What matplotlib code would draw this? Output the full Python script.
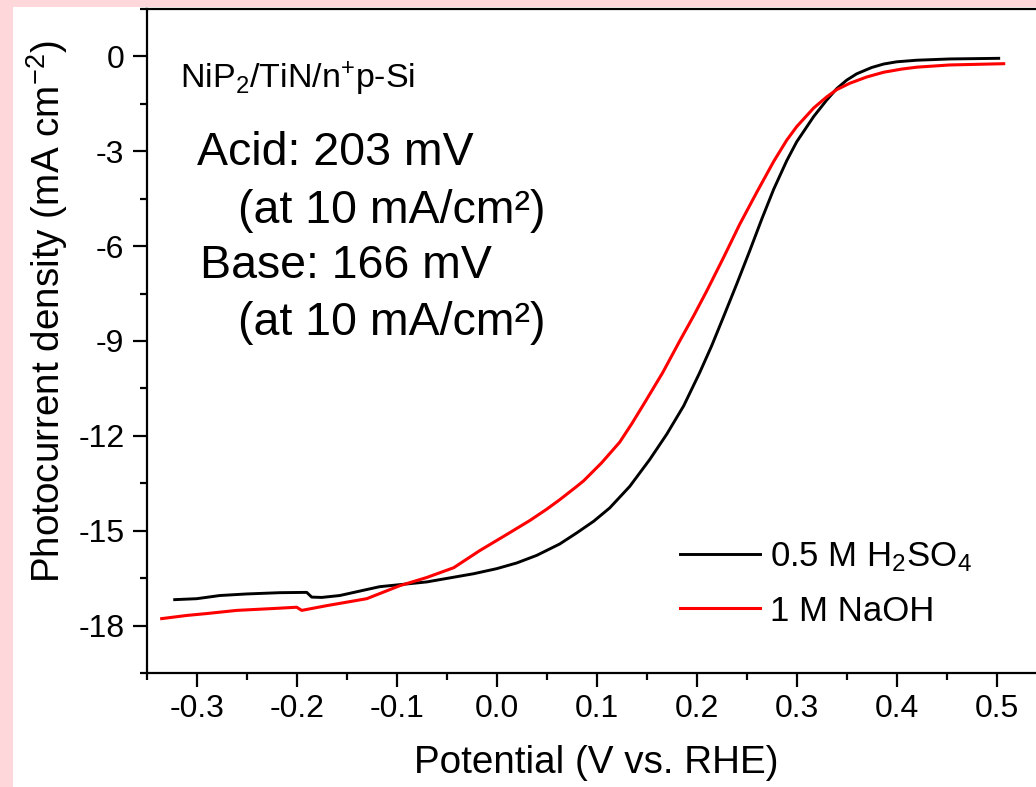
import matplotlib
matplotlib.use("Agg")
import matplotlib.pyplot as plt
from matplotlib.patches import Rectangle
from matplotlib.ticker import MultipleLocator, FormatStrFormatter

# Linear sweep voltammetry of NiP2/TiN/n+p-Si photocathode
acid_v = [-0.322, -0.300, -0.277, -0.250, -0.217, -0.190, -0.185, -0.175, -0.157,
          -0.117, -0.070, -0.023, 0.000, 0.020, 0.040, 0.063, 0.080, 0.097, 0.113,
          0.133, 0.153, 0.170, 0.187, 0.203, 0.215, 0.227, 0.240, 0.253, 0.265,
          0.277, 0.290, 0.300, 0.317, 0.330, 0.340, 0.350, 0.360, 0.375, 0.387,
          0.400, 0.420, 0.453, 0.502]
acid_j = [-17.18, -17.15, -17.05, -17.00, -16.96, -16.95, -17.10, -17.11, -17.05,
          -16.77, -16.62, -16.36, -16.20, -16.02, -15.78, -15.42, -15.07, -14.70, -14.28,
          -13.60, -12.75, -11.95, -11.05, -10.00, -9.15, -8.22, -7.20, -6.15, -5.15,
          -4.20, -3.30, -2.70, -1.90, -1.38, -1.02, -0.75, -0.55, -0.35, -0.24,
          -0.17, -0.12, -0.08, -0.06]

base_v = [-0.335, -0.310, -0.290, -0.260, -0.223, -0.200, -0.195, -0.170, -0.130,
          -0.097, -0.070, -0.043, -0.017, 0.010, 0.033, 0.050, 0.063, 0.080, 0.087,
          0.105, 0.123, 0.135, 0.147, 0.166, 0.183, 0.197, 0.210, 0.227, 0.243,
          0.260, 0.277, 0.290, 0.300, 0.317, 0.330, 0.340, 0.353, 0.370, 0.387,
          0.405, 0.420, 0.453, 0.507]
base_j = [-17.78, -17.68, -17.62, -17.52, -17.46, -17.42, -17.52, -17.37, -17.15,
          -16.74, -16.48, -16.17, -15.63, -15.12, -14.68, -14.32, -14.02, -13.60, -13.42,
          -12.85, -12.20, -11.62, -11.00, -10.00, -9.00, -8.20, -7.42, -6.35, -5.31,
          -4.30, -3.32, -2.65, -2.22, -1.63, -1.28, -1.05, -0.85, -0.65, -0.50,
          -0.40, -0.34, -0.27, -0.23]

series_labels = ["0.5 M H$_2$SO$_4$", "1 M NaOH"]
series_colors = ["black", "#ff0000"]

sample_label = "NiP$_2$/TiN/n$^{+}$p-Si"
notes = ["Acid: 203 mV", "(at 10 mA/cm\u00b2)", "Base: 166 mV", "(at 10 mA/cm\u00b2)"]

plt.rcParams["font.family"] = ["Liberation Sans", "DejaVu Sans"]
plt.rcParams["mathtext.default"] = "regular"
plt.rcParams["axes.unicode_minus"] = False

W, H = 1036, 787
fig = plt.figure(figsize=(W / 100, H / 100), dpi=100, facecolor="#fdd7d9")
fig.patches.append(Rectangle((13 / W, 0), 1, 1 - 7 / H, transform=fig.transFigure,
                             facecolor="white", edgecolor="none", zorder=-10))

def fx(px):
    return px / W

def fy(py):
    return 1 - py / H

ax = fig.add_axes([fx(146.7), fy(673), 900 / W, (673 - 9) / H])
ax.set_facecolor("none")
ax.set_zorder(2)

ax.plot(acid_v, acid_j, color=series_colors[0], lw=2.1, label=series_labels[0])
ax.plot(base_v, base_j, color=series_colors[1], lw=2.2, label=series_labels[1])

ax.set_xlim(-0.35, 0.55)
ax.set_ylim(-19.5, 1.5)
ax.xaxis.set_major_locator(MultipleLocator(0.1))
ax.xaxis.set_minor_locator(MultipleLocator(0.05))
ax.xaxis.set_major_formatter(FormatStrFormatter("%.1f"))
ax.yaxis.set_major_locator(MultipleLocator(3))
ax.yaxis.set_minor_locator(MultipleLocator(1.5))

for s in ax.spines.values():
    s.set_linewidth(1.6)
ax.tick_params(which="major", direction="out", length=10, width=1.6, labelsize=23)
ax.tick_params(axis="x", which="major", pad=5)
ax.tick_params(axis="y", which="major", pad=6)
ax.tick_params(which="minor", direction="out", length=5, width=1.6)
ax.tick_params(top=False, right=False)

ax.set_xlabel("Potential (V vs. RHE)", fontsize=27.8)
ax.set_ylabel("Photocurrent density (mA cm$^{-2}$)", fontsize=27.8)
ax.xaxis.set_label_coords(0.5, -0.108)
ax.yaxis.set_label_coords(-0.085, 0.544)

fig.text(fx(180), fy(88), sample_label, fontsize=24.5, va="baseline")
for txt, (px, py) in zip(notes, [(197, 165), (238, 223), (200, 278), (238, 335)]):
    fig.text(fx(px), fy(py), txt, fontsize=33.5, va="baseline")

ax.legend(loc="upper left", bbox_to_anchor=(fx(680), fy(540)),
          bbox_transform=fig.transFigure, frameon=False, fontsize=25,
          handlelength=2.3, handletextpad=0.3, labelspacing=0.6,
          borderpad=0, borderaxespad=0)

fig.savefig("out.png", dpi=100, facecolor=fig.get_facecolor())
